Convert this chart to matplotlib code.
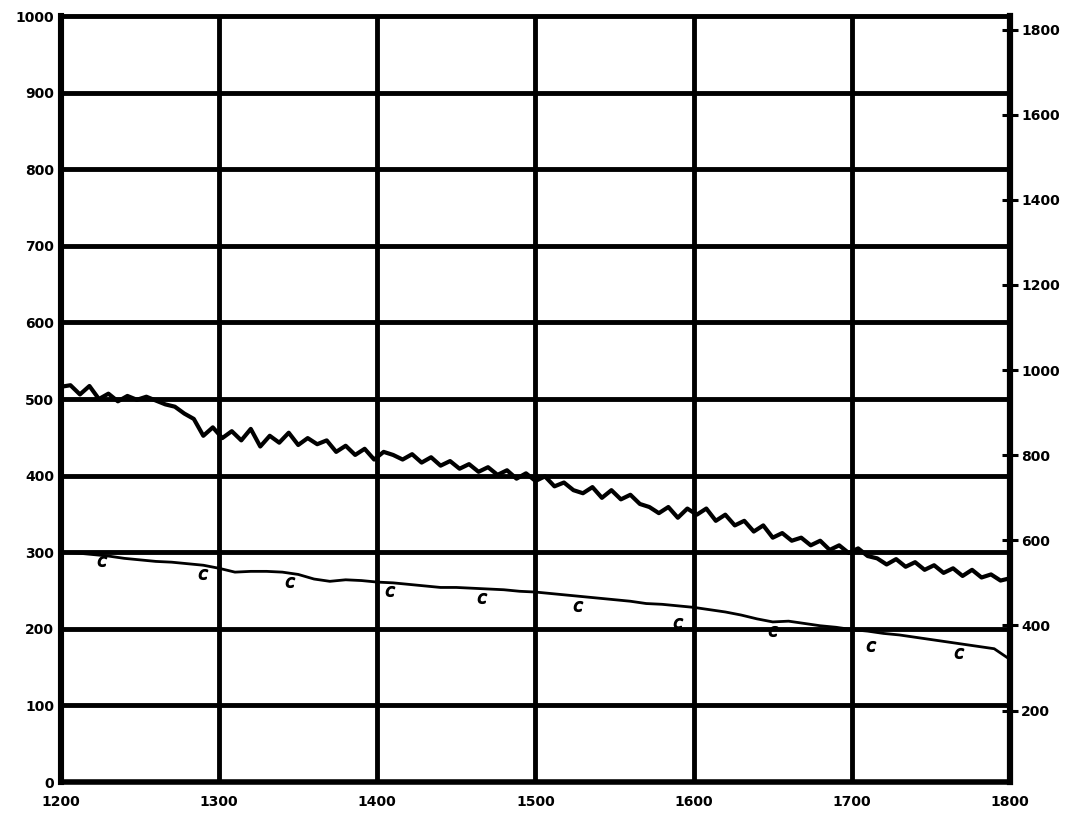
import numpy as np
import matplotlib.pyplot as plt

# upper trace (left scale)
upper_x = list(range(1200, 1801, 6))
upper_y = [516, 518, 506, 517, 500, 507, 497, 504, 499, 503,
           498, 493, 490, 481, 474, 452, 463, 449, 458, 446,
           461, 438, 452, 443, 456, 440, 449, 441, 446, 431,
           439, 427, 435, 421, 431, 427, 421, 428, 417, 424,
           413, 419, 409, 415, 405, 411, 401, 407, 396, 403,
           393, 399, 386, 391, 381, 377, 385, 371, 381, 369,
           375, 363, 359, 351, 359, 345, 357, 349, 357, 341,
           349, 335, 341, 327, 335, 319, 325, 315, 319, 309,
           315, 303, 309, 299, 305, 295, 292, 284, 291, 281,
           287, 277, 283, 273, 279, 269, 277, 267, 271, 263,
           266]

# lower trace (left scale)
lower_x = list(range(1200, 1801, 10))
lower_y = [300, 299, 297, 295, 292, 290, 288, 287, 285, 283,
           279, 274, 275, 275, 274, 271, 265, 262, 264, 263,
           261, 260, 258, 256, 254, 254, 253, 252, 251, 249,
           248, 246, 244, 242, 240, 238, 236, 233, 232, 230,
           228, 225, 222, 218, 213, 209, 210, 207, 204, 202,
           199, 197, 194, 192, 189, 186, 183, 180, 177, 174,
           160]

# little "c" hooks along the lower trace
hook_x = [1226, 1290, 1345, 1408, 1466, 1527, 1590, 1650, 1712, 1768]
hook_y = [288, 272, 261, 250, 240, 230, 208, 197, 178, 168]

x_ticks = [1200, 1300, 1400, 1500, 1600, 1700, 1800]
y_ticks = [0, 100, 200, 300, 400, 500, 600, 700, 800, 900, 1000]
right_ticks = [200, 400, 600, 800, 1000, 1200, 1400, 1600, 1800]


def c2f(c):
    return np.asarray(c) * 1.8 + 32


def f2c(f):
    return (np.asarray(f) - 32) / 1.8


fig = plt.figure(figsize=(10.77, 8.14), dpi=100)
ax = fig.add_axes([0.0566, 0.0393, 0.8812, 0.941])
ax.set_xlim(1200, 1800)
ax.set_ylim(0, 1000)
ax.set_xticks(x_ticks)
ax.set_yticks(y_ticks)
ax.grid(True, color="black", linewidth=3.5)
ax.set_axisbelow(True)

for side, lw in [("left", 4.4), ("right", 4.4), ("bottom", 4.0), ("top", 2.8)]:
    ax.spines[side].set_linewidth(lw)

ax.tick_params(axis="both", length=0, labelsize=10)
ax.tick_params(axis="x", pad=9)
ax.tick_params(axis="y", pad=5)
for lab in ax.get_xticklabels() + ax.get_yticklabels():
    lab.set_fontweight("bold")

ax.plot(upper_x, upper_y, color="black", linewidth=3.0, solid_joinstyle="round")
ax.plot(lower_x, lower_y, color="black", linewidth=2.0)
ax.plot(hook_x, hook_y, ls="none", marker="$c$", markersize=7, color="black")

sec = ax.secondary_yaxis("right", functions=(c2f, f2c))
sec.set_yticks(right_ticks)
sec.tick_params(axis="y", direction="inout", length=12, width=2.2, labelsize=10, pad=2)
for lab in sec.get_yticklabels():
    lab.set_fontweight("bold")
sec.spines["right"].set_linewidth(4.4)

fig.savefig("out.png", dpi=100)
